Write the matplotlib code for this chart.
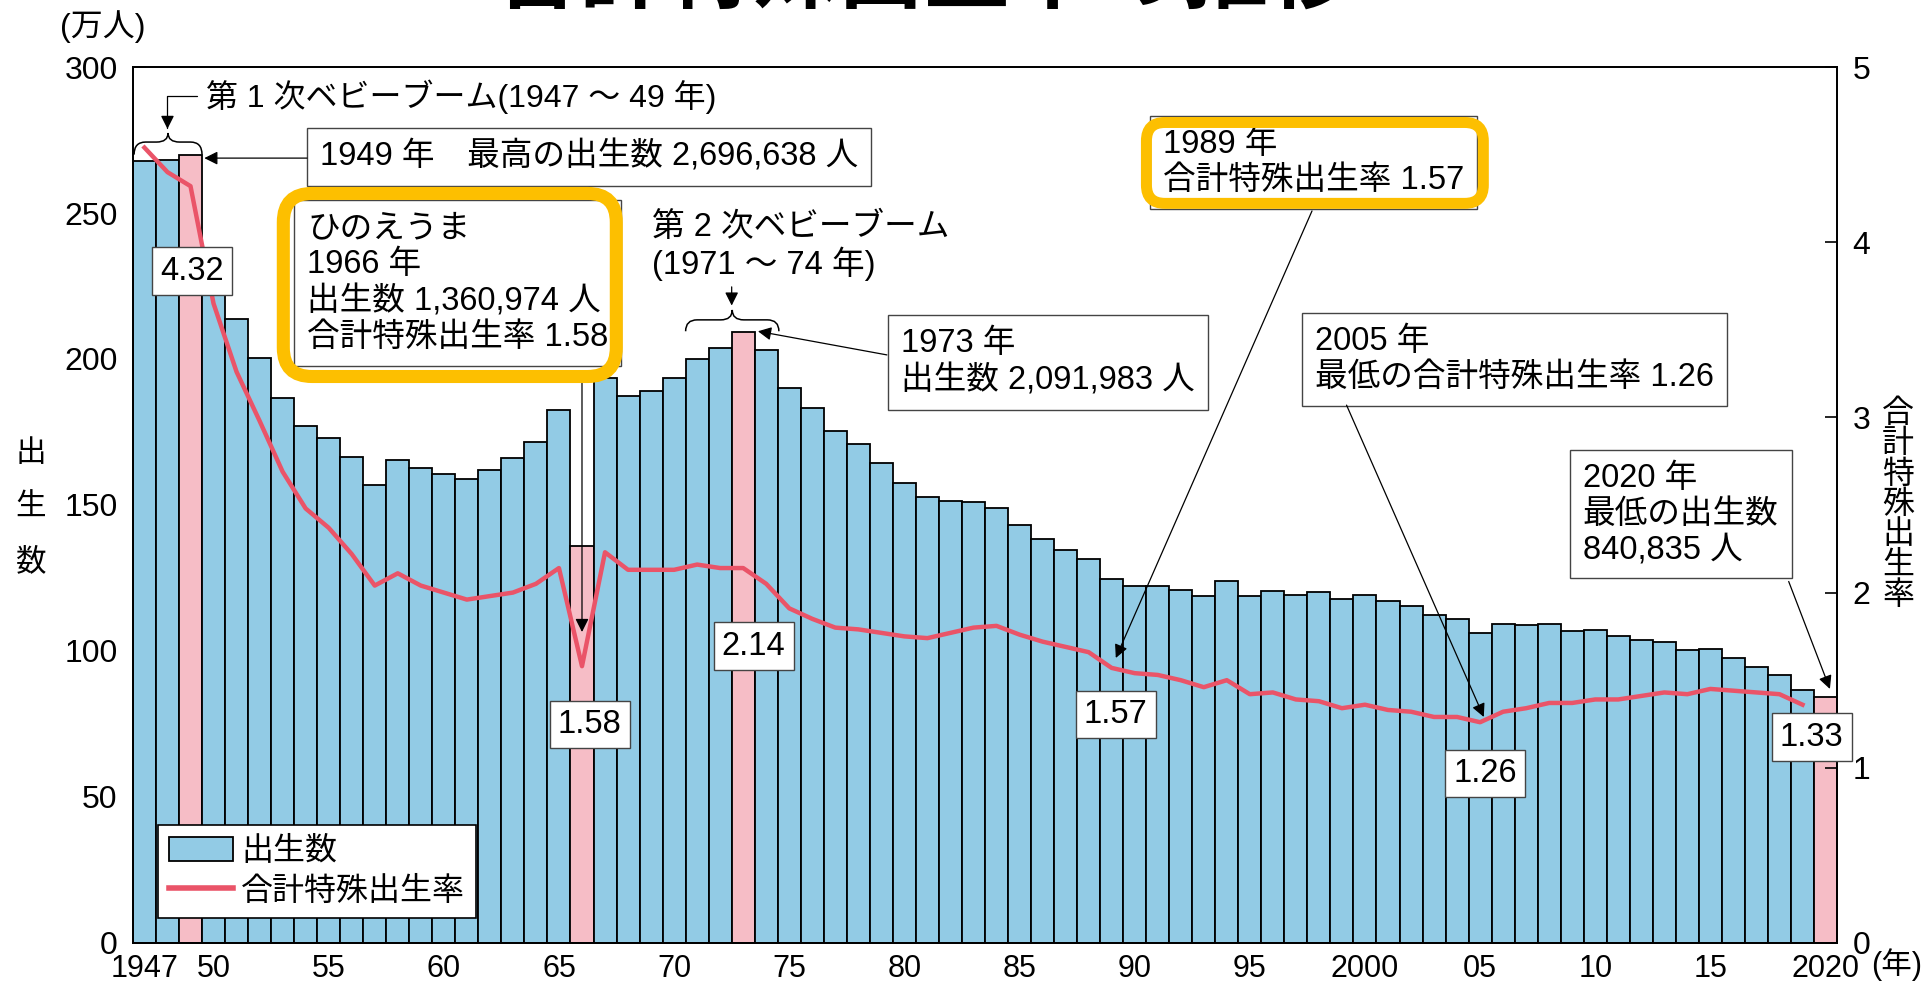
import matplotlib
matplotlib.use('Agg')
import matplotlib.pyplot as plt
from matplotlib.patches import Patch, FancyBboxPatch, PathPatch
from matplotlib.lines import Line2D
from matplotlib.path import Path

plt.rcParams['font.family'] = ['Liberation Sans', 'Noto Sans CJK JP']

# 出生数（万人）1947-2020
years = list(range(1947, 2021))
births = [267.9, 268.2, 269.7, 233.8, 213.8, 200.5, 186.8, 177.0, 173.1, 166.5,
          156.7, 165.3, 162.6, 160.6, 158.9, 161.9, 166.0, 171.7, 182.4, 136.1,
          193.6, 187.2, 188.9, 193.4, 200.1, 203.9, 209.2, 203.0, 190.1, 183.3,
          175.5, 170.9, 164.3, 157.7, 152.9, 151.5, 150.9, 149.0, 143.2, 138.3,
          134.7, 131.4, 124.7, 122.2, 122.3, 120.9, 118.8, 123.8, 118.7, 120.7,
          119.2, 120.3, 117.8, 119.1, 117.1, 115.4, 112.4, 111.1, 106.3, 109.3,
          109.0, 109.1, 107.0, 107.1, 105.1, 103.7, 103.0, 100.4, 100.6, 97.7,
          94.6, 91.8, 86.5, 84.1]
# 合計特殊出生率 1947-2019
rates = [4.54, 4.40, 4.32, 3.65, 3.26, 2.98, 2.69, 2.48, 2.37, 2.22,
         2.04, 2.11, 2.04, 2.00, 1.96, 1.98, 2.00, 2.05, 2.14, 1.58,
         2.23, 2.13, 2.13, 2.13, 2.16, 2.14, 2.14, 2.05, 1.91, 1.85,
         1.80, 1.79, 1.77, 1.75, 1.74, 1.77, 1.80, 1.81, 1.76, 1.72,
         1.69, 1.66, 1.57, 1.54, 1.53, 1.50, 1.46, 1.50, 1.42, 1.43,
         1.39, 1.38, 1.34, 1.36, 1.33, 1.32, 1.29, 1.29, 1.26, 1.32,
         1.34, 1.37, 1.37, 1.39, 1.39, 1.41, 1.43, 1.42, 1.45, 1.44,
         1.43, 1.42, 1.36]
highlight_years = [1949, 1966, 1973, 2020]

tick_years = [1947, 1950, 1955, 1960, 1965, 1970, 1975, 1980, 1985, 1990,
              1995, 2000, 2005, 2010, 2015, 2020]
tick_labels = ['1947', '50', '55', '60', '65', '70', '75', '80', '85', '90',
               '95', '2000', '05', '10', '15', '2020']

BLUE = '#92CBE5'
PINK = '#F6BDC6'
RED = '#EA5468'
ORANGE = '#FDBF00'
FS = 23.5

fig = plt.figure(figsize=(19.21, 9.84), dpi=100)
ax_rect = [0.0692, 0.0417, 0.8871, 0.8902]
ax = fig.add_axes(ax_rect)
ax2 = ax.twinx()

colors = [PINK if y in highlight_years else BLUE for y in years]
ax.bar(years, births, width=1.0, color=colors, edgecolor='black', linewidth=1.3, zorder=2)
ax.set_xlim(1946.5, 2020.5)
ax.set_ylim(0, 300)
ax2.set_ylim(0, 5)
ax2.plot(years[:len(rates)], rates, color=RED, linewidth=3.2, zorder=3)

ax.set_xticks(tick_years, tick_labels)
ax.set_yticks(range(0, 301, 50))
ax2.set_yticks(range(0, 6))
ax.tick_params(axis='x', length=0, pad=8, labelsize=22)
ax.tick_params(axis='y', direction='in', length=9, width=1.2, pad=11, labelsize=23)
ax2.tick_params(axis='y', direction='in', length=9, width=1.2, pad=11, labelsize=23)
for a in (ax, ax2):
    for s in a.spines.values():
        s.set_linewidth(1.3)

# axis labels
fig.text(0.0536, 0.9726, '(万人)', fontsize=23, ha='center', va='center')
fig.text(31 / 1921, 1 - 508 / 984, '出\n生\n数', fontsize=22, ha='center', va='center',
         linespacing=2.05)
fig.text(1898 / 1921, 1 - 505 / 984, '\n'.join('合計特殊出生率'), fontsize=23,
         ha='center', va='center', linespacing=1.02)
fig.text(1871 / 1921, 1 - 965 / 984, '(年)', fontsize=22, ha='left', va='center')
# title, cut off at the top as in the source picture
fig.text(0.481, 1 - 1 / 984, '合計特殊出生率の推移', fontsize=62, fontweight='bold',
         ha='center', va='baseline', family=['Noto Sans CJK JP'])

T = ax.transData
box = dict(boxstyle='square,pad=0.4', fc='white', ec='#444444', lw=1.0)
small = dict(boxstyle='square,pad=0.25', fc='white', ec='#444444', lw=1.0)
arrow = dict(arrowstyle='-|>', color='black', lw=0.9, mutation_scale=20, shrinkA=0, shrinkB=0)


def note(x, y, s, bbox=box, ha='left', **kw):
    ax2.text(x, y, s, transform=T, fontsize=FS, ha=ha, va='center', bbox=bbox,
             zorder=6, linespacing=1.2, **kw)


def leader(tip, start, **kw):
    ax2.annotate('', xy=tip, xytext=start, xycoords=T, textcoords=T,
                 arrowprops=dict(arrow, **kw), zorder=7)


def brace(x0, x1, y_end, y_mid, y_peak, r):
    xc = (x0 + x1) / 2
    verts = [(x0, y_end), (x0, y_mid), (x0 + r, y_mid), (xc - r, y_mid), (xc, y_mid),
             (xc, y_peak), (xc, y_mid), (xc + r, y_mid), (x1 - r, y_mid), (x1, y_mid),
             (x1, y_end)]
    codes = [Path.MOVETO, Path.CURVE3, Path.CURVE3, Path.LINETO, Path.CURVE3, Path.CURVE3,
             Path.CURVE3, Path.CURVE3, Path.LINETO, Path.CURVE3, Path.CURVE3]
    ax2.add_patch(PathPatch(Path(verts, codes), transform=T, fill=False, ec='black',
                            lw=1.1, zorder=6, clip_on=False))


fig_w, fig_h = fig.get_size_inches() * fig.dpi
asp = (300 / (ax_rect[3] * fig_h)) / (74 / (ax_rect[2] * fig_w))


def frame(x0, x1, y0, y1, r, lw):
    ax2.add_patch(FancyBboxPatch((x0, y0), x1 - x0, y1 - y0,
                                 boxstyle=f'round,pad=0,rounding_size={r}',
                                 mutation_aspect=asp, transform=T, fill=False,
                                 ec=ORANGE, lw=lw, zorder=8, clip_on=False))


# 第1次ベビーブーム
ax2.text(1949.67, 289.7, '第 1 次ベビーブーム(1947 ～ 49 年)', transform=T, fontsize=23,
         ha='left', va='center', zorder=6)
leader((1948.0, 278.8), (1949.28, 290.0), connectionstyle='angle,angleA=180,angleB=90,rad=0')
brace(1946.55, 1949.5, 270.0, 274.3, 277.4, 0.5)

# 1949
note(1954.62, 269.2, '1949 年　最高の出生数 2,696,638 人')
leader((1949.6, 268.8), (1954.06, 268.8))

# ひのえうま
note(1954.06, 225.9, 'ひのえうま\n1966 年\n出生数 1,360,974 人\n合計特殊出生率 1.58')
frame(1953.03, 1967.49, 194.0, 256.7, 1.25, 9.4)
leader((1966.0, 106.5), (1966.0, 195.5))

# 第2次ベビーブーム
ax2.text(1969.04, 238.5, '第 2 次ベビーブーム\n(1971 ～ 74 年)', transform=T, fontsize=FS,
         ha='left', va='center', linespacing=1.15, zorder=6)
leader((1972.5, 218.3), (1972.5, 224.7))
brace(1970.5, 1974.55, 209.5, 213.4, 216.8, 0.5)

# 1973
note(1979.85, 198.8, '1973 年\n出生数 2,091,983 人')
leader((1973.64, 209.5), (1979.24, 201.4))

# 1989
note(1991.22, 267.3, '1989 年\n合計特殊出生率 1.57')
frame(1990.51, 2005.14, 253.3, 281.0, 0.8, 7.9)
leader((1989.18, 97.6), (1997.7, 250.7))

# 2005
note(1997.82, 199.7, '2005 年\n最低の合計特殊出生率 1.26')
leader((2005.16, 77.4), (1999.2, 184.2))

# 2020
note(2009.46, 146.9, '2020 年\n最低の出生数\n840,835 人')
leader((2020.19, 87.0), (2018.4, 123.8))

# value labels
note(1949.06, 230.1, '4.32', bbox=small, ha='center')
note(1966.34, 74.8, '1.58', bbox=small, ha='center')
note(1973.45, 101.7, '2.14', bbox=small, ha='center')
note(1989.18, 78.3, '1.57', bbox=small, ha='center')
note(2005.23, 58.0, '1.26', bbox=small, ha='center')
note(2019.4, 70.5, '1.33', bbox=small, ha='center')

# legend
handles = [Patch(facecolor=BLUE, edgecolor='black', linewidth=1.3),
           Line2D([], [], color=RED, linewidth=4)]
leg = ax2.legend(handles, ['出生数', '合計特殊出生率'], loc='lower left',
                 bbox_to_anchor=(0.0147, 0.0285), borderaxespad=0, fontsize=23,
                 frameon=True, fancybox=False, edgecolor='black', framealpha=1,
                 borderpad=0.35, handlelength=2.0, handleheight=0.8,
                 handletextpad=0.25, labelspacing=0.3)
leg.get_frame().set_linewidth(1.2)
leg.set_zorder(9)

fig.savefig('out.png', dpi=100)
